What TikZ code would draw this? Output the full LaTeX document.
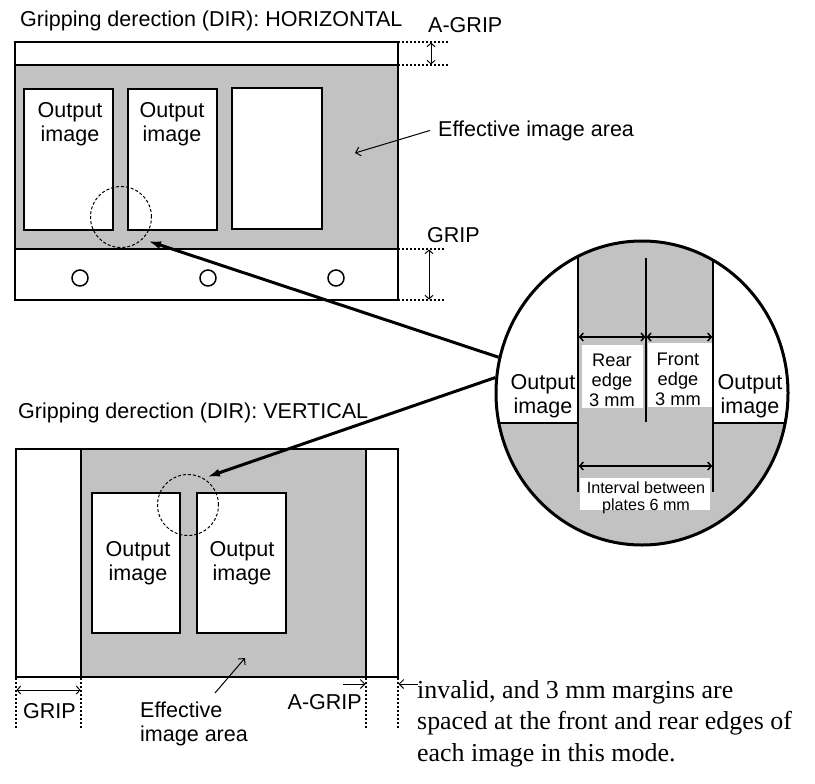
\documentclass[tikz,border=0pt]{standalone}
\usepackage{fontspec}
\setmainfont{Liberation Sans}
\newfontfamily\serifbody{Liberation Serif}
\usetikzlibrary{arrows.meta,shapes.geometric}
\begin{document}
\begin{tikzpicture}[x=1bp,y=-1bp,
  shadefill/.style={fill=black!24},
  frame/.style={draw=black,line width=2.2bp},
  imgbox/.style={draw=black,fill=white,line width=1.3bp},
  lab/.style={font=\fontsize{21.6}{24}\selectfont,align=center,inner sep=0pt},
  smalllab/.style={font=\fontsize{18.3}{20}\selectfont,align=center,inner sep=0pt},
  tinylab/.style={font=\fontsize{16.2}{17}\selectfont,align=center,inner sep=0pt},
  bodytext/.style={font=\serifbody\fontsize{26}{31.5}\selectfont,anchor=base west,inner sep=0pt},
  dimline/.style={line width=1bp,{Straight Barb[length=3.5bp,width=8bp]}-{Straight Barb[length=3.5bp,width=8bp]}},
  ptr/.style={line width=1bp,-{Straight Barb[length=4.5bp,width=9bp]}},
  bigptr/.style={line width=3bp,-{Latex[length=13bp,width=8bp]}},
  guide/.style={line width=1.2bp,dash pattern=on 1.5bp off 2.5bp},
  zoomring/.style={draw,circle,minimum size=61bp,inner sep=0pt,line width=1bp,dash pattern=on 3bp off 2bp}]

\useasboundingbox (0,0) rectangle (815,784);

% ---------------- top diagram ----------------
\node[lab,anchor=base west] (t1) at (20,27) {Gripping derection (DIR): HORIZONTAL};
\fill[shadefill] (15,65) rectangle (398,249);
\draw[line width=1.6bp] (15,65) -- (398,65) (15,249) -- (398,249);
\draw[frame] (15,42) rectangle (398,300);
\draw[imgbox] (24,89) rectangle (113,230);
\draw[imgbox] (128,89) rectangle (217,230);
\draw[imgbox] (232,88) rectangle (322,229);
\node[lab] (o1) at (70,124.5) {Output\\image};
\node[lab] (o2) at (172,124.5) {Output\\image};
\foreach \hx in {80,208,336} \draw[line width=1.5bp] (\hx,278) circle[radius=8bp];
\node[zoomring] (z1) at (121,217) {};

\draw[guide] (398,42) -- (448,42) (398,65) -- (448,65);
\draw[dimline] (431,42.5) -- (431,64.5);
\node[lab,anchor=base west] (ag1) at (428,33) {A-GRIP};
\draw[guide] (398,249) -- (445,249) (398,300) -- (445,300);
\draw[dimline] (429,249.5) -- (429,299.5);
\node[lab,anchor=base west] (g1) at (427,242) {GRIP};

\node[lab,anchor=base west] (e1) at (438,136) {Effective image area};
\coordinate (e1tip) at (355,153);
\draw[ptr] ([xshift=-8bp]e1.west) -- (e1tip);

% ---------------- bottom diagram ----------------
\node[lab,anchor=base west] (t2) at (18,418) {Gripping derection (DIR): VERTICAL};
\fill[shadefill] (81,449) rectangle (366,677);
\draw[line width=1.2bp] (81,449) -- (81,677);
\draw[line width=2bp] (366,449) -- (366,677);
\draw[frame] (16,449) rectangle (398,677);
\draw[imgbox] (92,493) rectangle (180,633);
\draw[imgbox] (197,493) rectangle (286,633);
\node[lab] (o3) at (138,563.5) {Output\\image};
\node[lab] (o4) at (242,563.5) {Output\\image};
\node[zoomring] (z2) at (188,505) {};

\draw[guide] (16,678) -- (16,730) (81,678) -- (81,730);
\draw[dimline] (16.5,690) -- (80.5,690);
\node[lab,anchor=base west] (g2) at (23,718) {GRIP};

\draw[guide] (366,678) -- (366,728) (398,678) -- (398,728);
\coordinate (agl) at (343,684);
\coordinate (agli) at (365.5,684);
\coordinate (agr) at (418,684);
\coordinate (agri) at (398.5,684);
\draw[ptr] (agl) -- (agli);
\draw[ptr] (agr) -- (agri);
\node[lab,anchor=base east] (ag2) at (362,709) {A-GRIP};

\node[lab,align=left,anchor=north west] (e2) at (140,701.6) {Effective\\image area};
\coordinate (e2tip) at (245,658);
\draw[ptr] ([xshift=75bp,yshift=8.6bp]e2.north west) -- (e2tip);

% ---------------- magnified circle ----------------
\fill[white] (642,393) ellipse[x radius=146bp,y radius=152bp];
\begin{scope}
  \clip (642,393) ellipse[x radius=146bp,y radius=152bp];
  \fill[shadefill] (578,230) rectangle (713,560);
  \fill[shadefill] (480,423) rectangle (800,560);
  \fill[white] (582,345) rectangle (643,408);
  \fill[white] (648,343) rectangle (712,407);
  \fill[white] (580,478) rectangle (710,510);
  \draw[line width=1.6bp] (578,230) -- (578,492) (713,230) -- (713,492);
  \draw[line width=1.6bp] (480,423) -- (578,423) (713,423) -- (800,423);
\end{scope}
\draw[line width=1.2bp] (646,258) -- (646,422);
\draw[dimline,line width=1.5bp] (578.8,337) -- (645.5,337);
\draw[dimline,line width=1.5bp] (646.5,337) -- (712.2,337);
\draw[dimline,line width=1.5bp] (578.8,466) -- (712.2,466);
\node[draw,ellipse,minimum width=292bp,minimum height=304bp,inner sep=0pt,line width=3bp] (big) at (642,393) {};

\node[lab] (o5) at (543,396.5) {Output\\image};
\node[lab] (o6) at (750,396.5) {Output\\image};
\node[smalllab] (rear) at (612,380.5) {Rear\\edge\\3 mm};
\node[smalllab] (front) at (678,379) {Front\\edge\\3 mm};
\node[tinylab] (intv) at (646,497.5) {Interval between\\plates 6 mm};

% ---------------- pointers ----------------
\coordinate (a1e) at (148,241);
\coordinate (a2e) at (207,477);
\draw[bigptr] (big.166) -- (a1e);
\draw[bigptr] (big.174) -- (a2e);

% ---------------- body text ----------------
\node[bodytext] (b1) at (417,698) {invalid, and 3 mm margins are};
\node[bodytext] (b2) at (417,729.5) {spaced at the front and rear edges of};
\node[bodytext] (b3) at (417,761.5) {each image in this mode.};
\end{tikzpicture}
\end{document}
